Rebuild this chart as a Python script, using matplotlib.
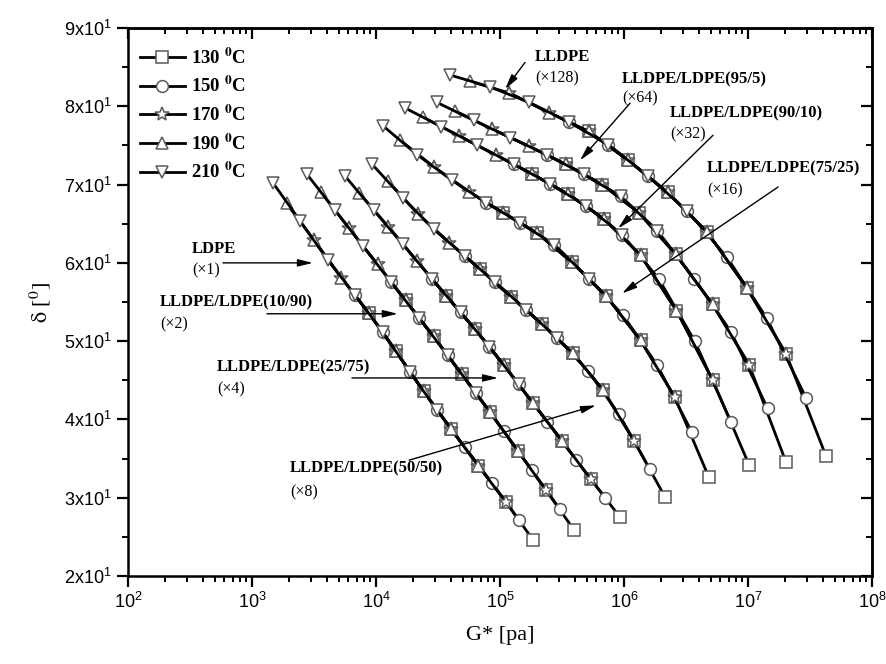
import numpy as np
import matplotlib
matplotlib.use("Agg")
from matplotlib import pyplot as plt
from matplotlib.ticker import LogLocator, MultipleLocator, FixedLocator, FixedFormatter, NullFormatter

plt.rcParams['mathtext.fontset'] = 'stix'

# van Gurp-Palmen data (G* in Pa, delta in degrees)
# ordered from low G* (high delta) to high G*
ldpe_g = [1480, 1900, 2460, 3160, 4070, 5260, 6780, 8730, 11300, 14500, 18700, 24200,
          31100, 40200, 51800, 66700, 86100, 111000, 143000, 185000]
ldpe_d = [70.2, 67.6, 65.3, 62.9, 60.4, 58.1, 55.9, 53.6, 51.2, 48.7, 46.1, 43.6,
          41.2, 38.8, 36.5, 34.1, 31.9, 29.5, 27.1, 24.6]

b10_90_g = [2780, 3610, 4690, 6080, 7890, 10300, 13300, 17300, 22400, 29100, 37800, 49000,
            63700, 82600, 107000, 139000, 181000, 234000, 305000, 395000]
b10_90_d = [71.3, 69.0, 66.7, 64.4, 62.1, 59.8, 57.5, 55.2, 52.9, 50.6, 48.2, 45.8,
            43.4, 41.0, 38.5, 36.0, 33.5, 31.0, 28.5, 25.9]

b25_75_g = [5620, 7360, 9620, 12600, 16400, 21500, 28100, 36800, 48100, 63000, 82200, 108000,
            141000, 184000, 241000, 315000, 412000, 538000, 705000, 920000]
b25_75_d = [71.1, 68.9, 66.7, 64.6, 62.4, 60.2, 58.0, 55.8, 53.7, 51.5, 49.3, 46.9,
            44.5, 42.1, 39.7, 37.3, 34.8, 32.4, 30.0, 27.6]

b50_50_g = [9290, 12400, 16500, 21900, 29200, 38900, 51800, 69000, 91800, 122000, 163000, 217000,
            289000, 385000, 513000, 682000, 908000, 1210000, 1610000, 2140000]
b50_50_d = [72.6, 70.5, 68.3, 66.2, 64.3, 62.6, 60.9, 59.2, 57.5, 55.7, 54.0, 52.2,
            50.4, 48.5, 46.2, 43.7, 40.7, 37.2, 33.7, 30.1]

b75_25_g = [11400, 15600, 21500, 29600, 40700, 56000, 76900, 106000, 146000, 200000, 275000, 378000,
            520000, 716000, 984000, 1360000, 1860000, 2560000, 3520000, 4840000]
b75_25_d = [77.5, 75.7, 73.8, 72.2, 70.6, 69.1, 67.7, 66.4, 65.1, 63.8, 62.3, 60.1,
            58.0, 55.8, 53.3, 50.1, 46.9, 42.9, 38.4, 32.6]

b90_10_g = [17100, 24000, 33600, 47000, 65800, 92000, 129000, 180000, 252000, 353000, 494000, 692000,
            968000, 1360000, 1900000, 2650000, 3720000, 5200000, 7280000, 10200000]
b90_10_d = [79.8, 78.6, 77.4, 76.2, 75.0, 73.8, 72.6, 71.4, 70.1, 68.8, 67.3, 65.6,
            63.6, 61.0, 58.0, 53.9, 50.0, 45.0, 39.7, 34.2]

b95_5_g = [31000, 43700, 61400, 86300, 121000, 171000, 240000, 338000, 475000, 668000, 940000, 1320000,
           1860000, 2610000, 3680000, 5180000, 7280000, 10200000, 14400000, 20200000]
b95_5_d = [80.5, 79.4, 78.2, 77.1, 76.0, 74.9, 73.8, 72.6, 71.3, 70.0, 68.5, 66.4,
           64.1, 61.1, 58.0, 54.7, 51.2, 47.0, 41.4, 34.6]

lldpe_g = [39500, 57100, 82400, 119000, 172000, 248000, 359000, 518000, 748000, 1080000, 1560000, 2250000,
           3250000, 4700000, 6780000, 9790000, 14200000, 20400000, 29500000, 42600000]
lldpe_d = [84.0, 83.2, 82.5, 81.7, 80.5, 79.2, 78.0, 76.8, 75.1, 73.1, 71.1, 69.0,
           66.6, 63.9, 60.7, 56.8, 52.9, 48.3, 42.7, 35.3]

families = [(ldpe_g, ldpe_d), (b10_90_g, b10_90_d), (b25_75_g, b25_75_d), (b50_50_g, b50_50_d),
            (b75_25_g, b75_25_d), (b90_10_g, b90_10_d), (b95_5_g, b95_5_d), (lldpe_g, lldpe_d)]

temps = ['130', '150', '170', '190', '210']
# which points of each curve belong to each temperature (first, last index, every 2nd point)
temp_first = [7, 6, 3, 1, 0]
temp_last = [19, 18, 17, 15, 12]
markers = ['s', 'o', '*', '^', 'v']
msizes = [8, 8.5, 10, 9, 9]

# annotation texts: name, multiplier, text position, arrow tail, arrow tip (data coords)
names = ['LDPE', 'LLDPE/LDPE(10/90)', 'LLDPE/LDPE(25/75)', 'LLDPE/LDPE(50/50)',
         'LLDPE/LDPE(75/25)', 'LLDPE/LDPE(90/10)', 'LLDPE/LDPE(95/5)', 'LLDPE']
mults = ['(\u00d71)', '(\u00d72)', '(\u00d74)', '(\u00d78)', '(\u00d716)', '(\u00d732)', '(\u00d764)', '(\u00d7128)']
name_x = [328, 181, 522, 2020, 4.67e6, 2.35e6, 9.64e5, 1.91e5]
name_y = [61.8, 54.9, 46.7, 33.7, 72.1, 79.1, 83.5, 86.3]
mult_y = [59.1, 52.2, 43.9, 30.7, 69.3, 76.4, 81.0, 83.6]
tail = [(583, 60.0), (1320, 53.5), (6400, 45.3), (18500, 34.8),
        (1.75e7, 69.7), (5.22e6, 76.3), (1.12e6, 80.4), (1.59e5, 85.6)]
tip = [(3100, 60.0), (15000, 53.5), (96400, 45.3), (5.94e5, 41.8),
       (9.64e5, 56.1), (8.96e5, 64.4), (4.42e5, 73.1), (1.10e5, 82.2)]

xt = [1e2, 1e3, 1e4, 1e5, 1e6, 1e7, 1e8]
yt = [20, 30, 40, 50, 60, 70, 80, 90]

fig = plt.figure(figsize=(8.87, 6.64), dpi=100)
ax = fig.add_axes([0.1443, 0.1325, 0.8388, 0.8253])

for k in range(len(temps)):
    for fam_i, (g, d) in enumerate(families):
        gx = g[temp_first[k]:temp_last[k] + 1:2]
        dy = d[temp_first[k]:temp_last[k] + 1:2]
        lab = temps[k] + r' $^{\mathbf{0}}$C' if fam_i == 0 else None
        ax.plot(gx, dy, color='black', lw=2.0, marker=markers[k], ms=msizes[k],
                mfc='white', mec='#5a5a5a', mew=1.1, label=lab)

for i in range(len(names)):
    ax.text(name_x[i], name_y[i], names[i], family='Liberation Serif', fontweight='bold',
            fontsize=12, va='center', ha='left')
    ax.text(name_x[i], mult_y[i], mults[i], family='Liberation Serif', fontsize=11.5,
            va='center', ha='left')
    ax.annotate('', xy=tip[i], xytext=tail[i],
                arrowprops=dict(arrowstyle='-|>,head_length=0.9,head_width=0.22',
                                color='black', lw=1.0, shrinkA=0, shrinkB=0))

ax.set_xscale('log')
ax.set_xlim(1e2, 1e8)
ax.set_ylim(20, 90)

ax.xaxis.set_major_locator(FixedLocator(xt))
ax.xaxis.set_major_formatter(FixedFormatter([r'$\mathregular{10^{%d}}$' % n for n in range(2, 9)]))
ax.xaxis.set_minor_locator(LogLocator(base=10, subs=np.arange(2, 10), numticks=20))
ax.xaxis.set_minor_formatter(NullFormatter())

ax.yaxis.set_major_locator(FixedLocator(yt))
ax.yaxis.set_major_formatter(FixedFormatter([r'$\mathregular{%dx10^1}$' % (v // 10) for v in yt]))
ax.yaxis.set_minor_locator(MultipleLocator(5))

for lbl in ax.get_xticklabels() + ax.get_yticklabels():
    lbl.set_family('Liberation Sans')
ax.tick_params(which='major', direction='out', length=8, width=1.6, labelsize=13)
ax.tick_params(which='minor', direction='out', length=4.5, width=1.4)
for sp in ax.spines.values():
    sp.set_linewidth(1.8)

# mirrored inward ticks on top and right
top = ax.secondary_xaxis('top')
top.xaxis.set_major_locator(FixedLocator(xt))
top.xaxis.set_minor_locator(LogLocator(base=10, subs=np.arange(2, 10), numticks=20))
top.tick_params(which='major', direction='in', length=8, width=1.6, labeltop=False)
top.tick_params(which='minor', direction='in', length=4.5, width=1.4, labeltop=False)
top.spines['top'].set_linewidth(1.8)
right = ax.secondary_yaxis('right')
right.yaxis.set_major_locator(FixedLocator(yt))
right.yaxis.set_minor_locator(MultipleLocator(5))
right.tick_params(which='major', direction='in', length=8, width=1.6, labelright=False)
right.tick_params(which='minor', direction='in', length=4.5, width=1.4, labelright=False)
right.spines['right'].set_linewidth(1.8)

ax.set_xlabel('G* [pa]', family='Liberation Serif', fontsize=16, labelpad=10)
ax.set_ylabel(r'$\mathrm{\delta}$ [$^{0}$]', family='Liberation Serif', fontsize=16, labelpad=8)

leg = ax.legend(loc='upper left', bbox_to_anchor=(0.016, 0.965), frameon=False,
                borderaxespad=0, borderpad=0, handlelength=2.4, handletextpad=0.3,
                labelspacing=0.45, prop={'family': 'Liberation Serif', 'weight': 'bold', 'size': 13.5})

fig.savefig('out.png', dpi=100)
